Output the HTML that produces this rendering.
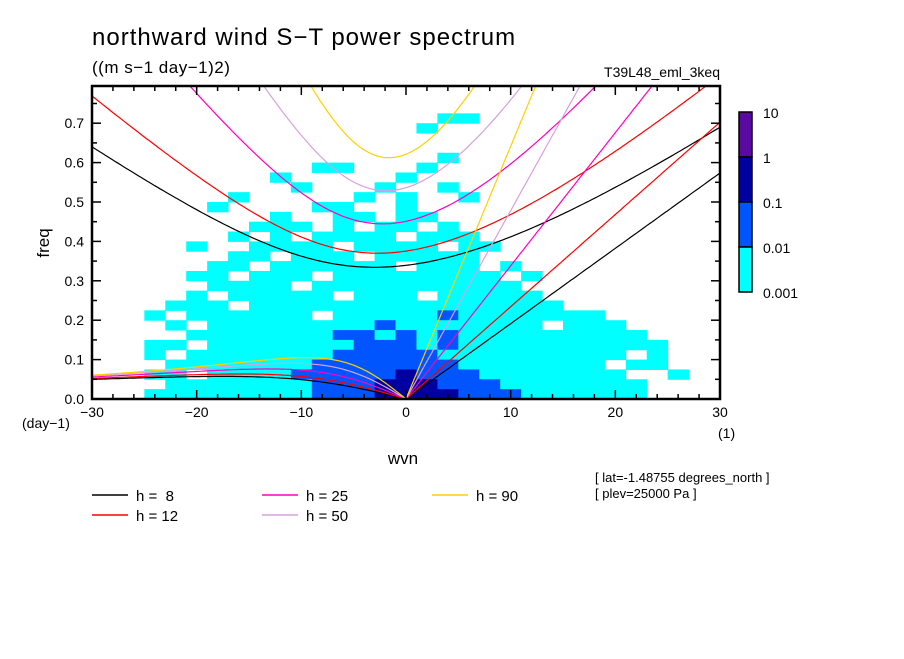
<!DOCTYPE html>
<html><head><meta charset="utf-8"><style>
body{margin:0;background:#fff;}
svg text{font-family:"Liberation Sans",sans-serif;fill:#000;}
</style></head><body>
<svg id="chart" width="904" height="654" viewBox="0 0 904 654" xmlns="http://www.w3.org/2000/svg">
<rect width="904" height="654" fill="#fff"/>
<text x="92" y="45" font-size="24" letter-spacing="1">northward wind S−T power spectrum</text>
<text x="92" y="73" font-size="17" letter-spacing="0.5">((m s−1 day−1)2)</text>
<text x="720" y="77" font-size="14" text-anchor="end">T39L48_eml_3keq</text>
<g id="cells"></g>
<g id="curves"></g>
<g id="axes"></g>
<text x="0" y="0" font-size="17" transform="translate(49,243) rotate(-90)" text-anchor="middle">freq</text>
<text x="403" y="464" font-size="17" text-anchor="middle">wvn</text>
<text x="22" y="428" font-size="14">(day−1)</text>
<text x="718" y="438" font-size="14">(1)</text>
<g id="colorbar"></g>
<text x="595" y="482" font-size="13">[ lat=-1.48755 degrees_north ]</text>
<text x="595" y="498" font-size="13">[ plev=25000 Pa ]</text>
<g id="legend"></g>
</svg>
<script>
const hValues=[8,12,25,50,90];
const hColors=["#000000","#ff0000","#ff00c0","#d8a0e0","#ffd000"];
const levelColors=["none","#00ffff","#0055ff","#0000a0","#5a0aa0"];
const levelLabels=["10","1","0.1","0.01","0.001"];
const xTicks=[-30,-20,-10,0,10,20,30];
const yTicks=[0,0.1,0.2,0.3,0.4,0.5,0.6,0.7];
const gridRows=[
"0000000000000000000000000000000",
"0000000000000000000000000000000",
"0000000000000000000000000000000",
"0000000000000000011000000000000",
"0000000000000000100000000000000",
"0000000000000000000000000000000",
"0000000000000000000000000000000",
"0000000000000000010000000000000",
"0000000000011000100000000000000",
"0000000001000001000000000000000",
"0000000000100010010000000000000",
"0000000100000101001000000000000",
"0000001000011001000000000000000",
"0000000001001101100000000000000",
"0000000011101011010000000000000",
"0000000101011110111000000000000",
"0000010011110111101100000000000",
"0000000110111011111000000000000",
"0000001101111110111010000000000",
"0000011011101111111101000000000",
"0000001111011111111110000000000",
"0000010111110111011111000000000",
"0000111011111111111111100000000",
"0001011111101111121111111000000",
"0000101111111121111111011100000",
"0000011111112212121111111110000",
"0001101111111222121111111111000",
"0001011111112222211111111101000",
"0000111111122222221111111011000",
"0001101111222223222111111100100",
"0000111111122233322211111110000",
"0001111111122233332221111110000"];
const X0=92,X1=720,Y0=399,YT=86;
const xs=k=>X0+(k+30)/60*(X1-X0);
const ys=f=>Y0-f*394;
const NS="http://www.w3.org/2000/svg";
function mk(tag,attrs,parent){const e=document.createElementNS(NS,tag);for(const a in attrs)e.setAttribute(a,attrs[a]);parent.appendChild(e);return e;}
const svg=document.getElementById('chart');
const defs=mk('defs',{},svg);
const cp=mk('clipPath',{id:'plotclip'},defs);
mk('rect',{x:X0,y:YT,width:X1-X0,height:Y0-YT},cp);
const cg=document.getElementById('cells');
cg.setAttribute('clip-path','url(#plotclip)');
gridRows.forEach((row,r)=>{
  const fTop=0.8-0.025*r, fBot=fTop-0.025;
  for(let c=0;c<row.length;c++){
    const lv=+row[c]; if(!lv) continue;
    const k0=-31+2*c;
    const el=mk('rect',{x:xs(k0),y:ys(fTop),width:xs(k0+2)-xs(k0)+0.5,height:ys(fBot)-ys(fTop)+0.5,fill:levelColors[lv]},cg);
    
    
  }
});
const g=9.81,beta=2.29e-11,a=6.371e6,toCPD=86400/(2*Math.PI);
const kg=document.getElementById('curves');
kg.setAttribute('clip-path','url(#plotclip)');
function solve(k,c,w){for(let i=0;i<60;i++){const F=w*w*w-(k*k*c*c+3*beta*c)*w-beta*k*c*c;const d=3*w*w-(k*k*c*c+3*beta*c);w-=F/d;}return w;}
hValues.forEach((h,i)=>{
  const c=Math.sqrt(g*h);
  let ig=[],ro=[],kv=[];
  for(let s=-30;s<=30.001;s+=0.25){
    const k=s/a;
    const w0=Math.sqrt(3*beta*c+k*k*c*c);
    ig.push([s,solve(k,c,w0)*toCPD]);
    if(s<0){const wr=-beta*k/(k*k+3*beta/c);ro.push([s,solve(k,c,wr)*toCPD]);}
    if(s>=0) kv.push([s,k*c*toCPD]);
  }
  ro.push([0,0]);
  [ig,ro,kv].forEach((pts,j)=>{
    const p=mk('polyline',{points:pts.map(q=>xs(q[0]).toFixed(1)+','+ys(q[1]).toFixed(1)).join(' '),fill:'none',stroke:hColors[i],'stroke-width':1.2},kg);
    
    
  });
});
const ag=document.getElementById('axes');
mk('rect',{x:X0,y:YT,width:X1-X0,height:Y0-YT,fill:'none',stroke:'#000','stroke-width':2.5},ag);
for(let k=-30;k<=30;k+=2){const L=(k%10===0)?9:5;
  mk('line',{x1:xs(k),x2:xs(k),y1:Y0,y2:Y0-L,stroke:'#000','stroke-width':1.5},ag);
  mk('line',{x1:xs(k),x2:xs(k),y1:YT,y2:YT+L,stroke:'#000','stroke-width':1.5},ag);}
for(let f=0;f<=0.79;f+=0.05){const L=(Math.round(f*100)%10===0)?9:5;
  mk('line',{x1:X0,x2:X0+L,y1:ys(f),y2:ys(f),stroke:'#000','stroke-width':1.5},ag);
  mk('line',{x1:X1,x2:X1-L,y1:ys(f),y2:ys(f),stroke:'#000','stroke-width':1.5},ag);}
xTicks.forEach(k=>{const t=mk('text',{x:xs(k),y:417,'font-size':14,'text-anchor':'middle'},ag);t.textContent=(k<0?'−':'')+Math.abs(k);
  
  });
yTicks.forEach(f=>{const t=mk('text',{x:84,y:ys(f)+5,'font-size':14,'text-anchor':'end'},ag);t.textContent=f.toFixed(1);
  
  });
const cb=document.getElementById('colorbar');
[4,3,2,1].forEach((lv,i)=>{const r=mk('rect',{x:739,y:112+45*i,width:13,height:45,fill:levelColors[lv],stroke:'#000','stroke-width':1.5},cb);
  
  });
levelLabels.forEach((l,i)=>{const t=mk('text',{x:763,y:112+45*i+6,'font-size':14},cb);t.textContent=l;
  
  });
const lg=document.getElementById('legend');
hValues.forEach((h,i)=>{const col=Math.floor(i/2),row=i%2;const x=92+170*col,y=495+20*row;
  const e=mk('g',{},lg);
  
  
  mk('line',{x1:x,x2:x+36,y1:y,y2:y,stroke:hColors[i],'stroke-width':1.5},e);
  const t=mk('text',{x:x+44,y:y+6,'font-size':15},e);t.textContent='h = '+(h<10?' ':'')+h;t.style.whiteSpace='pre';});
</script>
</body></html>
